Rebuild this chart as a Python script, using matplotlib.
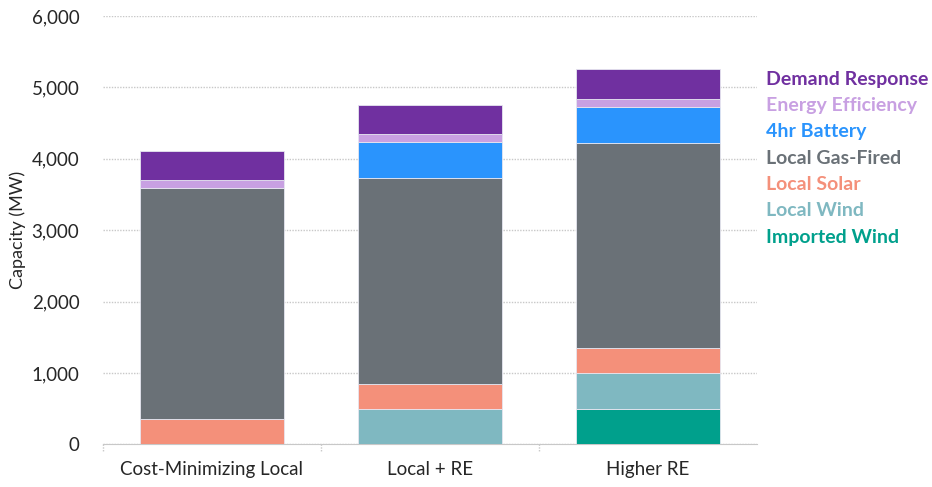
import matplotlib
matplotlib.use("Agg")
import matplotlib.pyplot as plt
import numpy as np

categories = ["Cost-Minimizing Local", "Local + RE", "Higher RE"]
series_names = ["Imported Wind", "Local Wind", "Local Solar", "Local Gas-Fired",
                "4hr Battery", "Energy Efficiency", "Demand Response"]
imported_wind = [0, 0, 500]
local_wind = [0, 495, 500]
local_solar = [350, 350, 350]
local_gas = [3235, 2890, 2875]
battery = [0, 495, 505]
energy_eff = [115, 115, 110]
demand_resp = [415, 410, 420]
series_values = [imported_wind, local_wind, local_solar, local_gas,
                 battery, energy_eff, demand_resp]
colors = ["#00A08C", "#7FB8C1", "#F4907A", "#6A7177",
          "#2A94FD", "#C8A0E2", "#7030A0"]
yticks = [0, 1000, 2000, 3000, 4000, 5000, 6000]

plt.rcParams['font.family'] = ['Lato', 'DejaVu Sans']

fig = plt.figure(figsize=(9.32, 4.87), dpi=100)
ax = fig.add_axes([103/932, 1 - 444.3/487, (757-103)/932, (444.3-16)/487])

x = np.arange(len(categories))
bottom = np.zeros(len(categories))
for name, vals, c in zip(series_names, series_values, colors):
    v = np.array(vals, dtype=float)
    ax.bar(x, v, bottom=bottom, width=0.665, color=c, edgecolor="#E6E6F0",
           linewidth=0.6, zorder=3)
    bottom += v

ax.set_xlim(-0.5, 2.5)
ax.set_ylim(0, 6000)
ax.set_yticks(yticks)
ax.set_yticklabels([f"{t:,}" for t in yticks], fontsize=13.5, color="#262626")
ax.set_xticks(x)
ax.set_xticklabels(categories, fontsize=13.5, color="#262626")
ax.tick_params(axis='y', length=0, pad=17)
ax.tick_params(axis='x', length=0, pad=12)
ax.yaxis.grid(True, linestyle=(0, (1, 1)), color="#C8C8C8", linewidth=1.0, zorder=0)
for s in ["left", "right", "top"]:
    ax.spines[s].set_visible(False)
ax.spines["bottom"].set_linestyle((0, (1, 1)))
ax.spines["bottom"].set_color("#C8C8C8")
# category boundary tick marks
for b in [-0.5, 0.5, 1.5]:
    ax.plot([b, b], [0, -90], color="#C8C8C8", linewidth=1.0, linestyle=(0, (1, 1)),
            clip_on=False)

ax.set_ylabel("Capacity (MW)", fontsize=13, color="#262626", labelpad=4)

legend_y = [80, 106, 132, 158, 184, 210, 237]
for name, c, yp in zip(series_names[::-1], colors[::-1], legend_y):
    fig.text(766/932, 1 - yp/487, name, color=c, fontsize=14, fontweight='bold',
             va='center', ha='left')

fig.savefig("out.png", dpi=100)
